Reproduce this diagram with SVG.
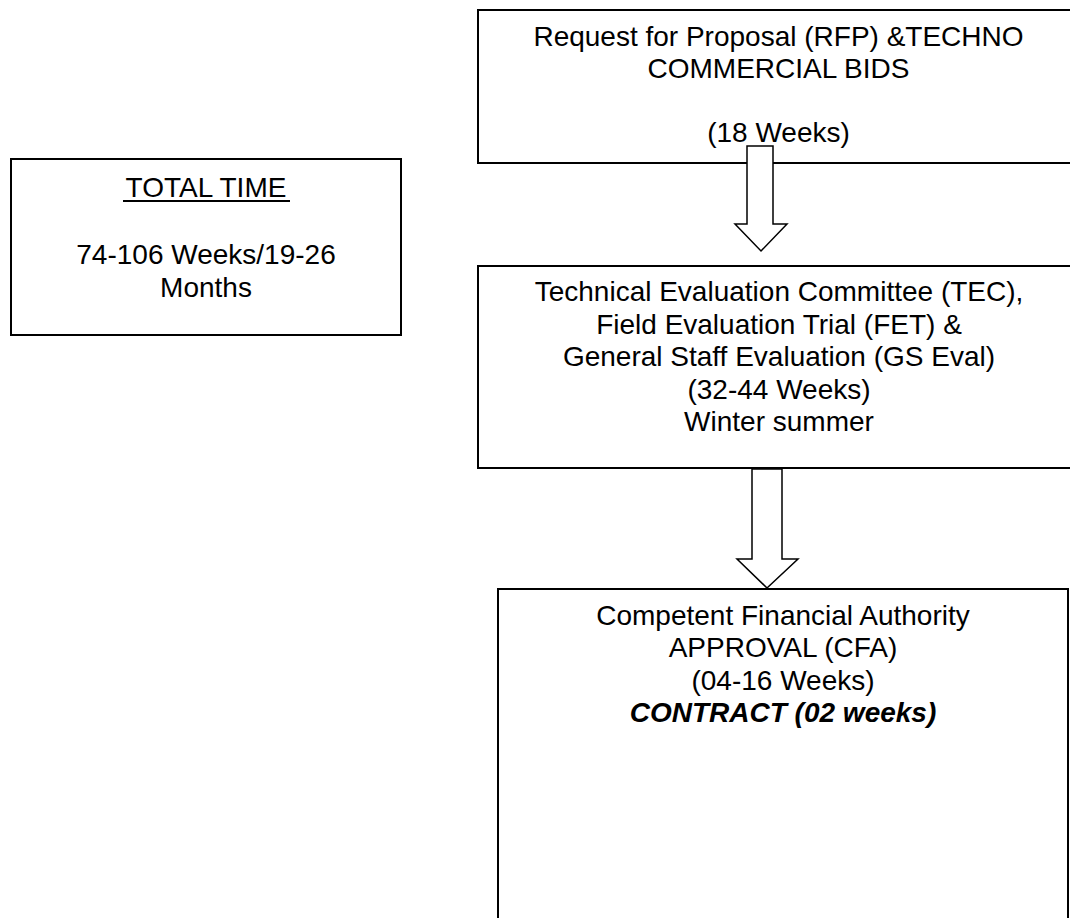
<svg xmlns="http://www.w3.org/2000/svg" width="1070" height="918" viewBox="0 0 1070 918">
  <style>
    .box { fill: #ffffff; stroke: #000000; stroke-width: 2; }
    .arrow { fill: #ffffff; stroke: #000000; stroke-width: 1.5; stroke-linejoin: miter; }
    .t { font-family: "Liberation Sans", Arial, sans-serif; font-size: 28px; fill: #000000; text-anchor: middle; }
    .bi { font-weight: bold; font-style: italic; }
  </style>
  <rect x="0" y="0" width="1070" height="918" fill="#ffffff"/>

  <g id="node-rfp">
    <rect class="box" x="478" y="10" width="602" height="153"/>
    <text class="t" x="778.5" y="46">Request for Proposal (RFP) &amp;TECHNO</text>
    <text class="t" x="778.5" y="78">COMMERCIAL BIDS</text>
    <text class="t" x="778.5" y="142">(18 Weeks)</text>
  </g>

  <g id="node-total">
    <rect class="box" x="11" y="159" width="390" height="176"/>
    <text class="t" x="206" y="197">TOTAL TIME</text>
    <line x1="123" y1="201" x2="290" y2="201" stroke="#000" stroke-width="2"/>
    <text class="t" x="206" y="264">74-106 Weeks/19-26</text>
    <text class="t" x="206" y="297">Months</text>
  </g>

  <g id="node-tec">
    <rect class="box" x="478" y="266" width="602" height="202"/>
    <text class="t" x="779" y="301">Technical Evaluation Committee (TEC),</text>
    <text class="t" x="779" y="334">Field Evaluation Trial (FET) &amp;</text>
    <text class="t" x="779" y="366">General Staff Evaluation (GS Eval)</text>
    <text class="t" x="779" y="399">(32-44 Weeks)</text>
    <text class="t" x="779" y="431">Winter summer</text>
  </g>

  <g id="node-cfa">
    <rect class="box" x="498" y="589" width="570" height="340"/>
    <text class="t" x="783" y="625">Competent Financial Authority</text>
    <text class="t" x="783" y="657">APPROVAL (CFA)</text>
    <text class="t" x="783" y="690">(04-16 Weeks)</text>
    <text class="t bi" x="783" y="722">CONTRACT (02 weeks)</text>
  </g>

  <g id="connectors">
    <polygon class="arrow" points="747,146 773,146 773,224 787,224 761,251 735,224 747,224"/>
    <polygon class="arrow" points="752,469 782,469 782,559 798,559 767,588 737,559 752,559"/>
  </g>
</svg>
